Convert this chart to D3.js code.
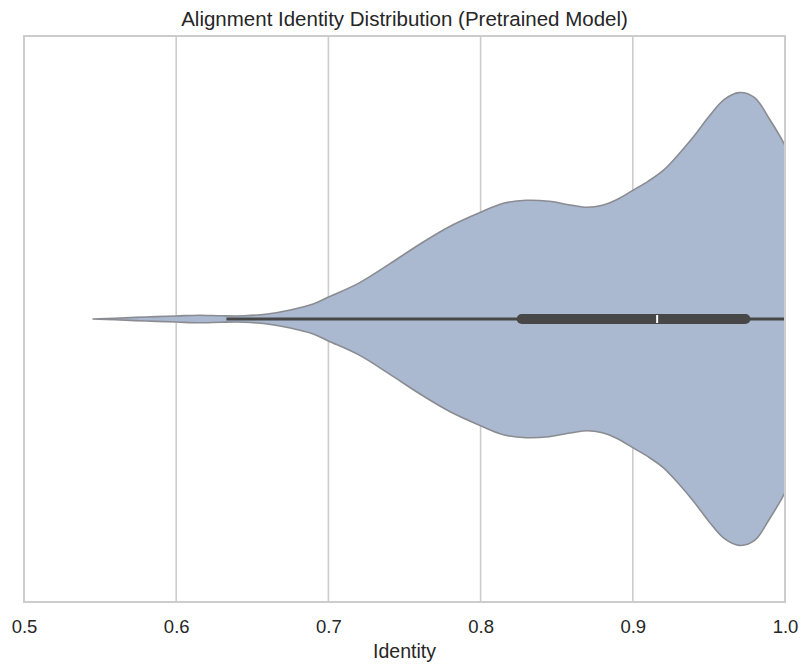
<!DOCTYPE html>
<html>
<head>
<meta charset="utf-8">
<script src="https://cdn.jsdelivr.net/npm/d3@7"></script>
<style>
  body { margin: 0; background: #fff; }
  text { font-family: "Liberation Sans", Arial, sans-serif; fill: #262626; }
</style>
</head>
<body>
<div id="chart"></div>
<script>
// kde profile: identity value and relative density
var kdeX = [0.545, 0.56, 0.58, 0.60, 0.615, 0.63, 0.645, 0.66, 0.675, 0.69, 0.70, 0.72, 0.74, 0.76, 0.78, 0.80,
            0.815, 0.83, 0.845, 0.86, 0.87, 0.88, 0.89, 0.90, 0.91, 0.92, 0.93, 0.94, 0.95, 0.96, 0.97, 0.98, 0.99, 1.0, 1.01, 1.02];
var kdeY = [0, 0.8, 2, 3, 3.8, 3.2, 3.2, 5, 9, 15, 22, 36, 55, 75, 93, 107,
            116, 119, 118, 114, 112, 114, 120, 129, 138, 149, 165, 183, 203, 220, 227, 222, 200, 174, 140, 105];
// box stats
var whiskerLo = 0.633, q1 = 0.827, median = 0.916, q3 = 0.974, whiskerHi = 1.0;
var xTicks = [0.5, 0.6, 0.7, 0.8, 0.9, 1.0];

var W = 804, H = 669;
var margin = {top: 36, right: 19, bottom: 67, left: 24},
    width = W - margin.left - margin.right,
    height = H - margin.top - margin.bottom;

var svg = d3.select("#chart").append("svg")
    .attr("width", W).attr("height", H)
  .append("g")
    .attr("transform", "translate(" + margin.left + "," + margin.top + ")");

var x = d3.scaleLinear().domain([0.5, 1.0]).range([0, width]);
var y = d3.scaleLinear().domain([0.5, -0.5]).range([0, height]);
var dens = d3.scaleLinear().domain([0, d3.max(kdeY)]).range([0, 0.4]);

// grid
svg.append("g").selectAll("line").data(xTicks).enter().append("line")
    .attr("x1", d => x(d)).attr("x2", d => x(d))
    .attr("y1", 0).attr("y2", height)
    .attr("stroke", "#cccccc").attr("stroke-width", 1.6);

svg.append("clipPath").attr("id", "clip")
  .append("rect").attr("width", width).attr("height", height);

var plot = svg.append("g").attr("clip-path", "url(#clip)");

var pts = kdeX.map((v, i) => [v, kdeY[i]]);
var area = d3.area()
    .curve(d3.curveCatmullRom)
    .x(d => x(d[0]))
    .y0(d => y(-dens(d[1])))
    .y1(d => y(dens(d[1])));

plot.append("path")
    .datum(pts)
    .attr("d", area)
    .attr("fill", "#aab8d0")
    .attr("stroke", "#8a8c92")
    .attr("stroke-width", 1.6);

// box
plot.append("line")
    .attr("x1", x(whiskerLo)).attr("x2", x(whiskerHi))
    .attr("y1", y(0)).attr("y2", y(0))
    .attr("stroke", "#474747").attr("stroke-width", 3);
plot.append("line")
    .attr("x1", x(q1)).attr("x2", x(q3))
    .attr("y1", y(0)).attr("y2", y(0))
    .attr("stroke", "#474747").attr("stroke-width", 10)
    .attr("stroke-linecap", "round");
plot.append("line")
    .attr("x1", x(median)).attr("x2", x(median))
    .attr("y1", y(0) - 4).attr("y2", y(0) + 4)
    .attr("stroke", "#ffffff").attr("stroke-width", 2);

// frame
svg.append("rect")
    .attr("width", width).attr("height", height)
    .attr("fill", "none").attr("stroke", "#cccccc").attr("stroke-width", 2);

// x axis labels
var xAxis = svg.append("g")
    .attr("transform", "translate(0," + height + ")")
    .call(d3.axisBottom(x).tickValues(xTicks).tickSize(0).tickPadding(18).tickFormat(d3.format(".1f")));
xAxis.select(".domain").remove();
xAxis.selectAll("text").attr("font-size", 18.5).attr("fill", "#262626")
    .style("font-family", "'Liberation Sans', Arial, sans-serif");

svg.append("text")
    .attr("x", width / 2).attr("y", height + 56)
    .attr("text-anchor", "middle").attr("font-size", 19.5)
    .text("Identity");

svg.append("text")
    .attr("x", width / 2).attr("y", -10)
    .attr("text-anchor", "middle").attr("font-size", 20.5)
    .text("Alignment Identity Distribution (Pretrained Model)");
</script>
</body>
</html>
